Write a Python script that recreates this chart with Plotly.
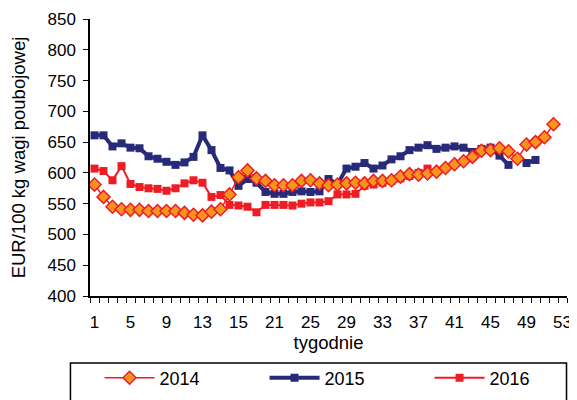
import plotly.graph_objects as go

weeks_2014 = list(range(1, 53))
prices_2014 = [581, 561, 545, 541, 540, 540, 538, 538, 538, 538, 535, 532, 531, 537, 541,
               565, 593, 604, 591, 587, 580, 580, 580, 587, 588, 583, 580, 581, 583, 584,
               583, 587, 587, 588, 594, 598, 597, 599, 602, 608, 614, 619, 626, 636, 637,
               640, 635, 623, 646, 650, 658, 679]

weeks_2015 = list(range(1, 51))
prices_2015 = [661, 661, 643, 648, 641, 640, 627, 623, 618, 613, 617, 626, 661, 637, 608,
               604, 579, 590, 584, 569, 566, 566, 569, 570, 569, 570, 590, 582, 607, 610,
               616, 607, 612, 622, 627, 637, 641, 645, 639, 641, 643, 641, 634, 639, 641,
               628, 613, None, 616, 621]

weeks_2016 = list(range(1, 39))
prices_2016 = [607, 603, 588, 611, 582, 577, 575, 574, 571, 575, 583, 588, 584, 561, 564,
               548, 547, 545, 536, 548, 548, 548, 547, 550, 552, 552, 554, 565, 565, 566,
               579, 581, 584, 587, 591, 595, 600, 607]

tick_vals = [1, 5, 9, 13, 17, 21, 25, 29, 33, 37, 41, 45, 49, 53]
tick_text = ["1", "5", "9", "13", "15", "21", "25", "29", "33", "37", "41", "45", "49", "53"]

FONT = "Arial, Liberation Sans, sans-serif"
NAVY = "#262A78"
RED = "#EE1D25"
ORANGE = "#F7941E"

fig = go.Figure()
fig.add_trace(go.Scatter(
    x=weeks_2015, y=prices_2015, name="2015", mode="lines+markers",
    line=dict(color=NAVY, width=4), connectgaps=False,
    marker=dict(symbol="square", size=8, color=NAVY), legendrank=2, legendwidth=100))
fig.add_trace(go.Scatter(
    x=weeks_2016, y=prices_2016, name="2016", mode="lines+markers",
    line=dict(color=RED, width=2),
    marker=dict(symbol="square", size=8, color=RED), legendrank=3, legendwidth=50))
fig.add_trace(go.Scatter(
    x=weeks_2014, y=prices_2014, name="2014", mode="lines+markers",
    line=dict(color=RED, width=1.5),
    marker=dict(symbol="diamond", size=10, color=ORANGE, line=dict(color=RED, width=1.5)),
    legendrank=1, legendwidth=100))

fig.update_layout(
    width=569, height=392,
    margin=dict(l=82, r=10, t=11, b=104, autoexpand=False),
    paper_bgcolor="white", plot_bgcolor="white",
    font=dict(family=FONT, size=17, color="black"),
    showlegend=True,
    legend=dict(orientation="h", x=0.02, xanchor="left", y=-0.296, yanchor="middle",
                font=dict(size=18), itemwidth=50,
                borderwidth=0, bgcolor="rgba(0,0,0,0)", traceorder="normal"),
    shapes=[dict(type="rect", xref="paper", yref="paper",
                 x0=-0.041, x1=0.999, y0=-0.242, y1=-0.6,
                 line=dict(color="black", width=1.5), fillcolor="rgba(0,0,0,0)")],
)

fig.update_xaxes(
    range=[0.5, 53.5], tickmode="array", tickvals=tick_vals, ticktext=tick_text,
    ticks="", showline=True, linecolor="black", linewidth=1.5, showgrid=False,
    zeroline=False, ticklabelstandoff=10, tickfont=dict(size=17), automargin=False,
    minor=dict(ticks="outside", tick0=0.5, dtick=1, ticklen=5, tickcolor="black",
               tickwidth=1.2, showgrid=False),
    title=dict(text="tygodnie", font=dict(size=18.5), standoff=0))

fig.update_yaxes(
    range=[400, 850], tickmode="linear", tick0=400, dtick=50,
    ticks="outside", ticklen=5, tickwidth=1.2, tickcolor="black",
    showline=True, linecolor="black", linewidth=1.5, showgrid=False, zeroline=False,
    tickfont=dict(size=17), ticklabelstandoff=4, automargin=False,
    title=dict(text="EUR/100 kg wagi poubojowej", font=dict(size=18.5), standoff=19))

fig.write_html("out.html")
